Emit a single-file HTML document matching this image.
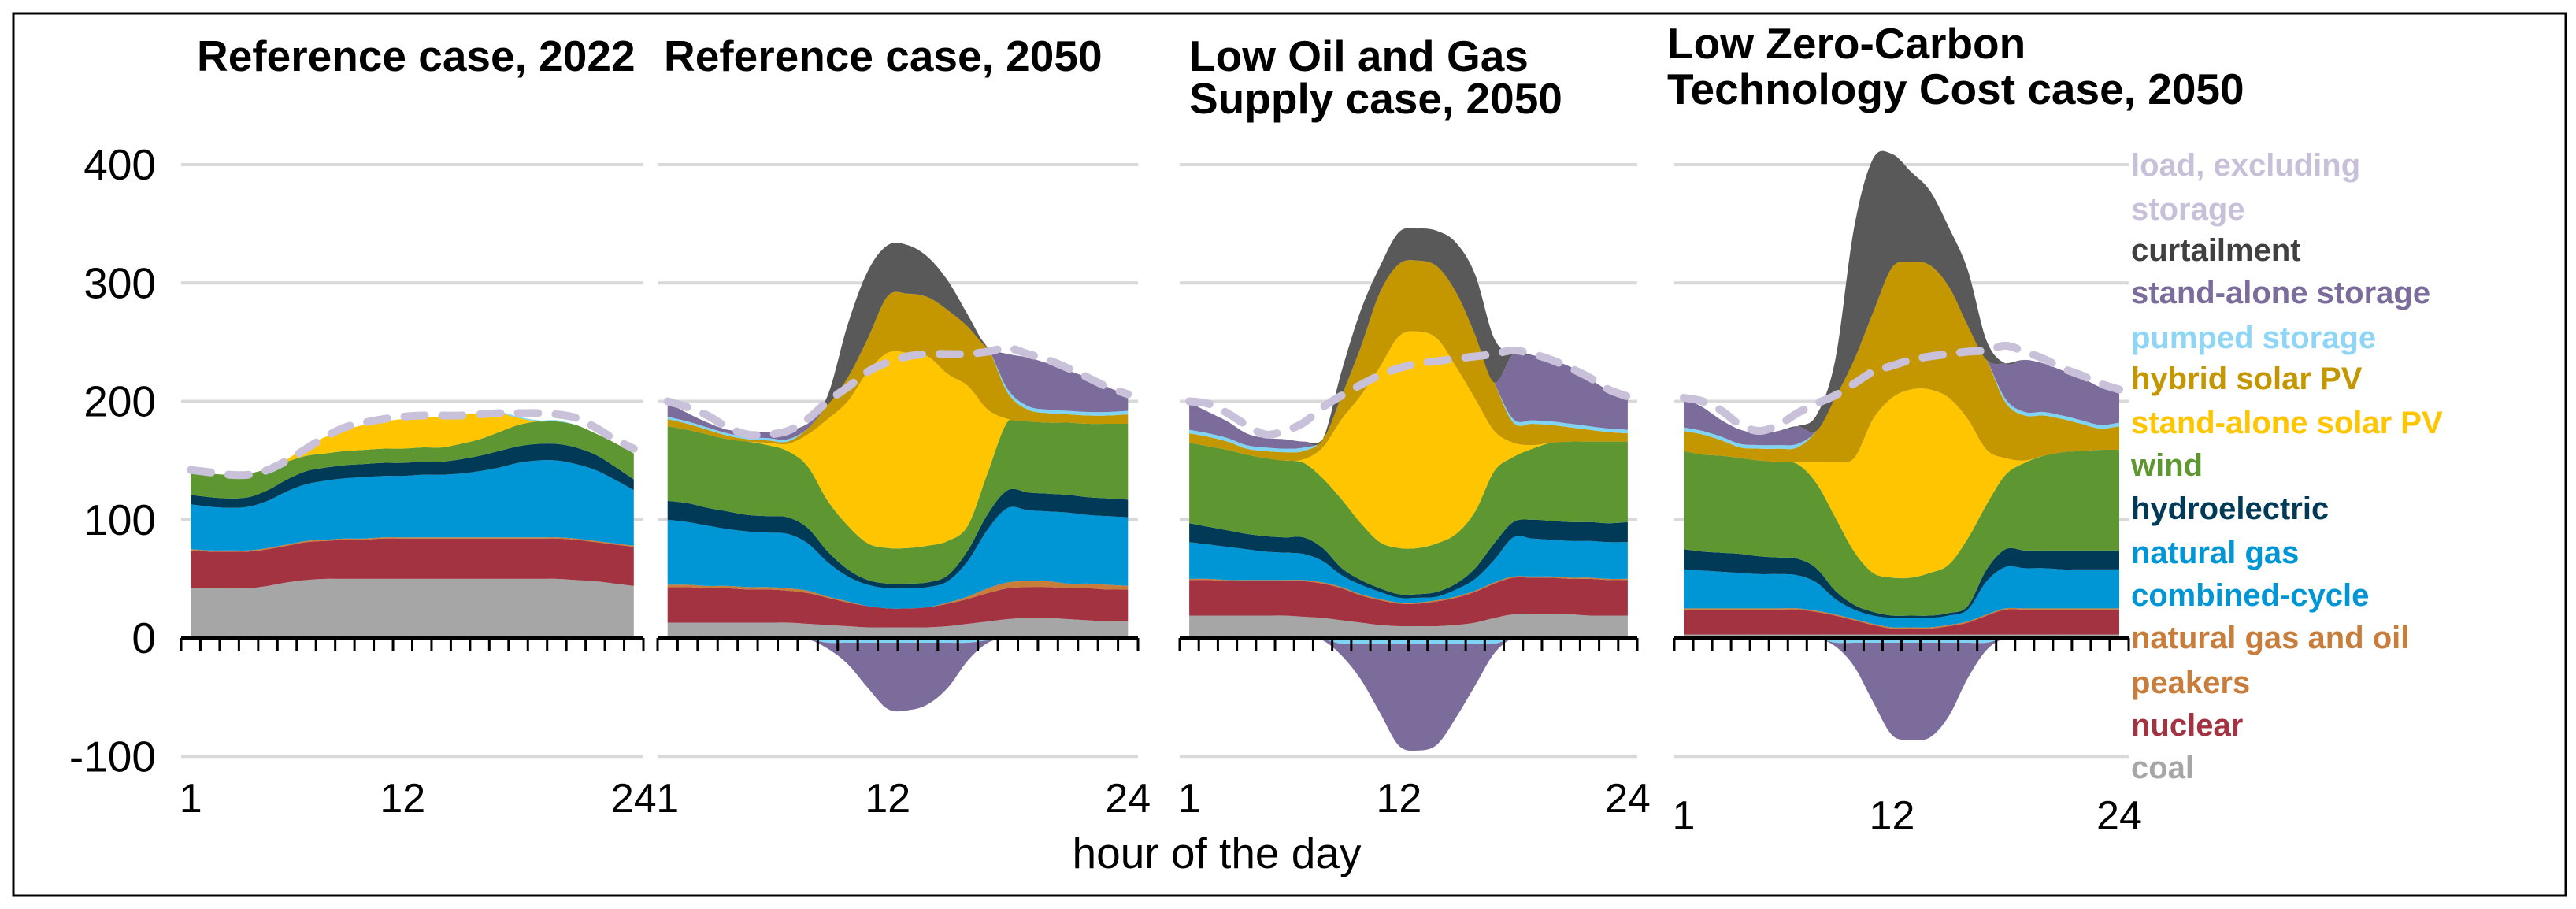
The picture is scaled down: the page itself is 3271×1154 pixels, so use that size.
<!DOCTYPE html>
<html><head><meta charset="utf-8"><style>
html,body{margin:0;padding:0;background:#fff;}
svg{display:block;font-family:"Liberation Sans",Arial,sans-serif;}
</style></head><body>
<svg id="chart" width="3271" height="1154" viewBox="0 0 3271 1154" xmlns="http://www.w3.org/2000/svg">
<rect x="17" y="17" width="3241" height="1120" fill="#fff" stroke="#000" stroke-width="3"/>
<g font-weight="bold" font-size="55" fill="#000">
<text x="250" y="90">Reference case, 2022</text>
<text x="843" y="90">Reference case, 2050</text>
<text x="1510" y="90">Low Oil and Gas</text>
<text x="1510" y="144">Supply case, 2050</text>
<text x="2117" y="74">Low Zero-Carbon</text>
<text x="2117" y="132">Technology Cost case, 2050</text>
</g>
<g id="yaxis" font-size="55" fill="#000" text-anchor="end"></g>
<g id="panels"></g>
<text x="1545" y="1102" font-size="55" text-anchor="middle" fill="#000">hour of the day</text>
<g id="legend" font-weight="bold" font-size="40"></g>
</svg>
<script>
const hours=[1,2,3,4,5,6,7,8,9,10,11,12,13,14,15,16,17,18,19,20,21,22,23,24];
const yTicks=[400,300,200,100,0,-100];
const xTickLabels=[1,12,24];

// Panel 1: Reference case, 2022
const p1Coal=[42,42,42,42,44,47,49,50,50,50,50,50,50,50,50,50,50,50,50,50,49,48,46,44];
const p1Nuclear=[32,31,31,31,31,31,32,32,33,33,34,34,34,34,34,34,34,34,34,34,34,33,33,33];
const p1Peakers=[1,1,1,1,1,1,1,1,1,1,1,1,1,1,1,1,1,1,1,1,1,1,1,1];
const p1Ngcc=[38,37,36,37,40,45,48,50,51,52,52,52,53,53,54,56,59,63,65,65,63,60,54,47];
const p1Hydro=[8,8,8,8,9,10,11,11,11,11,11,11,11,11,12,13,14,14,14,14,14,13,11,9];
const p1Wind=[20,20,20,20,18,15,13,12,12,12,12,12,12,12,13,14,16,18,19,19,19,18,20,22];
const p1Solar=[0,0,0,0,0,2,8,14,18,21,23,25,26,26,25,22,16,6,0,0,0,0,0,0];
const p1Hybrid=[0,0,0,0,0,0,0,0,0,0,0,0,0,0,0,0,0,0,0,0,0,0,0,0];
const p1Pumped=[0,0,0,0,0,0,0,0,0,0,0,0,0,0,0,0,1,1,1,1,0,0,0,0];
const p1Storage=[0,0,0,0,0,0,0,0,0,0,0,0,0,0,0,0,0,0,0,0,0,0,0,0];
const p1Curtail=[0,0,0,0,0,0,0,0,0,0,0,0,0,0,0,0,0,0,0,0,0,0,0,0];
const p1Load=[142,140,138,138,142,150,160,170,178,182,185,187,188,188,188,189,190,190,190,189,186,178,168,160];
const p1StorageNeg=[0,0,0,0,0,0,0,0,0,0,0,0,0,0,0,0,0,0,0,0,0,0,0,0];
const p1PumpedNeg=[0,0,0,0,0,0,0,0,0,0,0,0,0,0,0,0,0,0,0,0,0,0,0,0];

// Panel 2: Reference case, 2050
const p2Coal=[13,13,13,13,13,13,13,12,11,10,9,9,9,9,10,12,14,16,17,17,16,15,14,14];
const p2Nuclear=[30,30,29,29,28,28,27,26,23,20,18,16,16,17,19,21,24,26,26,26,26,27,27,27];
const p2Peakers=[2,2,2,2,2,2,2,2,1,1,0,0,0,0,1,2,4,5,5,5,4,4,4,3];
const p2Ngcc=[55,53,51,48,47,46,46,40,29,21,18,17,17,17,18,30,50,63,60,59,60,58,58,58];
const p2Hydro=[16,16,15,15,14,14,14,13,9,6,4,4,4,4,5,9,13,15,15,15,15,15,15,15];
const p2Wind=[63,62,62,61,62,60,56,52,43,37,31,30,30,31,29,21,35,58,60,60,61,62,63,64];
const p2Solar=[0,0,0,0,0,2,6,27,69,105,145,165,165,160,141,118,53,2,0,0,0,0,0,0];
const p2Hybrid=[6,5,4,3,2,2,2,5,12,20,28,48,50,50,54,50,52,22,10,8,7,7,7,8];
const p2Pumped=[2,2,2,2,2,2,2,0,0,0,0,0,0,0,0,0,0,3,3,3,3,3,3,3];
const p2Storage=[12,7,4,3,5,5,7,4,0,0,0,0,0,0,0,0,0,30,41,39,34,29,21,13];
const p2Curtail=[0,0,0,0,0,0,0,0,8,45,57,43,41,34,25,10,0,0,0,0,0,0,0,0];
const p2Load=[200,195,188,178,172,172,175,185,200,212,225,233,238,240,240,240,242,245,240,235,228,220,212,206];
const p2StorageNeg=[0,0,0,0,0,0,0,0,-5,-18,-38,-56,-57,-52,-38,-15,-2,0,0,0,0,0,0,0];
const p2PumpedNeg=[0,0,0,0,0,0,0,-1,-4,-4,-4,-4,-4,-4,-4,-4,-2,0,0,0,0,0,0,0];

// Panel 3: Low Oil and Gas Supply case, 2050
const p3Coal=[19,19,19,19,19,19,18,17,15,13,11,10,10,10,11,13,17,20,20,20,20,19,19,19];
const p3Nuclear=[30,30,29,29,29,29,30,29,27,23,21,19,19,21,23,26,29,31,31,31,30,31,30,30];
const p3Peakers=[1,1,1,1,1,1,1,1,1,1,1,1,1,1,1,1,1,1,1,1,1,1,1,1];
const p3Ngcc=[31,29,28,26,24,23,22,18,10,8,6,4,4,3,6,10,19,33,32,31,31,31,31,31];
const p3Hydro=[16,15,14,13,13,13,14,11,6,4,3,3,3,4,5,9,14,13,16,16,16,16,16,17];
const p3Wind=[68,68,68,67,66,65,63,59,58,48,39,39,39,41,42,48,61,55,60,66,68,68,69,68];
const p3Solar=[0,0,0,0,0,0,3,26,68,108,148,179,183,173,141,95,34,12,3,0,0,0,0,0];
const p3Hybrid=[8,8,7,5,6,7,7,7,20,41,63,61,60,61,63,54,41,17,18,15,12,10,8,7];
const p3Pumped=[3,3,3,3,3,3,3,0,0,0,0,0,0,0,0,0,0,3,3,3,3,3,3,3];
const p3Storage=[23,18,14,10,8,8,5,0,0,0,0,0,0,0,0,0,0,55,55,52,48,40,32,26];
const p3Curtail=[0,0,0,0,0,0,0,0,21,31,22,27,27,30,42,51,37,0,0,0,0,0,0,0];
const p3Load=[200,198,190,180,172,175,182,195,205,214,222,228,232,234,236,238,240,243,240,235,228,220,210,204];
const p3StorageNeg=[0,0,0,0,0,0,0,-1,-10,-30,-58,-86,-90,-85,-62,-35,-8,0,0,0,0,0,0,0];
const p3PumpedNeg=[0,0,0,0,0,0,0,-1,-5,-5,-5,-5,-5,-5,-5,-5,-5,0,0,0,0,0,0,0];

// Panel 4: Low Zero-Carbon Technology Cost case, 2050
const p4Coal=[3,3,3,3,3,3,3,3,3,3,3,3,3,3,3,3,3,3,3,3,3,3,3,3];
const p4Nuclear=[21,21,21,21,21,21,21,19,16,12,8,5,5,5,7,10,16,21,21,21,21,21,21,21];
const p4Peakers=[1,1,1,1,1,1,1,1,1,1,1,1,1,1,1,1,1,1,1,1,1,1,1,1];
const p4Ngcc=[33,32,31,30,29,29,28,24,13,8,7,8,8,8,8,10,28,35,34,34,33,33,33,33];
const p4Hydro=[17,16,16,16,15,14,14,12,7,4,3,2,2,2,2,3,10,15,15,15,16,16,16,16];
const p4Wind=[83,82,82,81,81,81,80,72,62,45,33,32,32,36,41,57,55,63,74,80,83,84,85,85];
const p4Solar=[0,0,0,0,0,0,2,18,47,79,130,152,159,155,141,101,46,14,2,0,0,0,0,0];
const p4Hybrid=[17,17,13,9,10,11,12,26,54,83,90,110,108,105,94,79,76,47,38,34,28,23,18,20];
const p4Pumped=[3,3,3,3,3,3,3,0,0,0,0,0,0,0,0,0,0,3,3,3,3,3,3,3];
const p4Storage=[25,20,14,12,10,12,15,0,0,0,0,0,0,0,0,0,0,30,44,41,38,36,32,26];
const p4Curtail=[0,0,0,0,0,0,0,13,32,112,130,96,76,63,50,47,16,0,0,0,0,0,0,0];
const p4Load=[203,200,192,180,175,180,190,198,205,215,225,230,235,238,240,242,243,247,242,236,228,222,215,210];
const p4StorageNeg=[0,0,0,0,0,0,0,0,-3,-20,-50,-78,-82,-80,-62,-30,-6,0,0,0,0,0,0,0];
const p4PumpedNeg=[0,0,0,0,0,0,0,0,-4,-4,-4,-4,-4,-4,-4,-4,-4,0,0,0,0,0,0,0];

const layerNames=['coal','nuclear','peakers','natural-gas-combined-cycle','hydroelectric','wind','stand-alone-solar-pv','hybrid-solar-pv','pumped-storage','stand-alone-storage','curtailment'];
const layerColors=['#a6a6a6','#a33340','#c87d3a','#0096d6','#003a57','#5e9732','#ffc600','#c49700','#7fd4f5','#7b6c9b','#595959'];

const NS='http://www.w3.org/2000/svg';
const Y0=810, YS=1.5025;
function yScale(v){return Y0-YS*v;}

function curveSeg(pts){
  let d='';
  for(let i=0;i<pts.length-1;i++){
    const p0=pts[Math.max(0,i-1)],p1=pts[i],p2=pts[i+1],p3=pts[Math.min(pts.length-1,i+2)];
    const c1x=p1[0]+(p2[0]-p0[0])/6,c1y=p1[1]+(p2[1]-p0[1])/6;
    const c2x=p2[0]-(p3[0]-p1[0])/6,c2y=p2[1]-(p3[1]-p1[1])/6;
    d+=' C'+c1x.toFixed(1)+','+c1y.toFixed(1)+' '+c2x.toFixed(1)+','+c2y.toFixed(1)+' '+p2[0].toFixed(1)+','+p2[1].toFixed(1);
  }
  return d;
}
function areaPath(top,bot){
  let d='M'+top[0][0].toFixed(1)+','+top[0][1].toFixed(1)+curveSeg(top);
  const rb=bot.slice().reverse();
  d+=' L'+rb[0][0].toFixed(1)+','+rb[0][1].toFixed(1)+curveSeg(rb)+' Z';
  return d;
}

const panels=[
 {id:'reference-2022',x0:230,x1:817,layers:[p1Coal,p1Nuclear,p1Peakers,p1Ngcc,p1Hydro,p1Wind,p1Solar,p1Hybrid,p1Pumped,p1Storage,p1Curtail],load:p1Load,sneg:p1StorageNeg,pneg:p1PumpedNeg,labY:1031},
 {id:'reference-2050',x0:835,x1:1445,layers:[p2Coal,p2Nuclear,p2Peakers,p2Ngcc,p2Hydro,p2Wind,p2Solar,p2Hybrid,p2Pumped,p2Storage,p2Curtail],load:p2Load,sneg:p2StorageNeg,pneg:p2PumpedNeg,labY:1031},
 {id:'low-oil-gas-2050',x0:1498,x1:2079,layers:[p3Coal,p3Nuclear,p3Peakers,p3Ngcc,p3Hydro,p3Wind,p3Solar,p3Hybrid,p3Pumped,p3Storage,p3Curtail],load:p3Load,sneg:p3StorageNeg,pneg:p3PumpedNeg,labY:1031},
 {id:'low-zero-carbon-2050',x0:2126,x1:2703,layers:[p4Coal,p4Nuclear,p4Peakers,p4Ngcc,p4Hydro,p4Wind,p4Solar,p4Hybrid,p4Pumped,p4Storage,p4Curtail],load:p4Load,sneg:p4StorageNeg,pneg:p4PumpedNeg,labY:1053}
];

const yAxisG=document.getElementById('yaxis');
yTicks.forEach(t=>{
  const tx=document.createElementNS(NS,'text');
  tx.setAttribute('x',198);tx.setAttribute('y',yScale(t)+19);
  tx.textContent=String(t);
  
  
  yAxisG.appendChild(tx);
});

const panelsG=document.getElementById('panels');
panels.forEach(p=>{
  const g=document.createElementNS(NS,'g');
  
  
  panelsG.appendChild(g);
  const step=(p.x1-p.x0)/hours.length;
  const xScale=h=>p.x0+(h-0.5)*step;
  yTicks.forEach(t=>{
    if(t===0)return;
    const l=document.createElementNS(NS,'line');
    l.setAttribute('x1',p.x0);l.setAttribute('x2',p.x1);
    l.setAttribute('y1',yScale(t));l.setAttribute('y2',yScale(t));
    l.setAttribute('stroke','#d9d9d9');l.setAttribute('stroke-width','4');
    
    
    g.appendChild(l);
  });
  let cum=hours.map(()=>0);
  p.layers.forEach((arr,li)=>{
    const bot=hours.map((h,i)=>[xScale(h),yScale(cum[i])]);
    const next=cum.map((c,i)=>c+arr[i]);
    const top=hours.map((h,i)=>[xScale(h),yScale(next[i])]);
    cum=next;
    if(arr.every(v=>v===0))return;
    const path=document.createElementNS(NS,'path');
    path.setAttribute('d',areaPath(top,bot));
    path.setAttribute('fill',layerColors[li]);
    
    
    g.appendChild(path);
  });
  let ncum=hours.map(()=>0);
  [[p.pneg,8],[p.sneg,9]].forEach(([arr,li])=>{
    const bot=hours.map((h,i)=>[xScale(h),yScale(ncum[i])]);
    const next=ncum.map((c,i)=>c+arr[i]);
    const top=hours.map((h,i)=>[xScale(h),yScale(next[i])]);
    ncum=next;
    if(arr.every(v=>v===0))return;
    const path=document.createElementNS(NS,'path');
    path.setAttribute('d',areaPath(top,bot));
    path.setAttribute('fill',layerColors[li]);
    
    
    g.appendChild(path);
  });
  const lp=hours.map((h,i)=>[xScale(h),yScale(p.load[i])]);
  const ld=document.createElementNS(NS,'path');
  ld.setAttribute('d','M'+lp[0][0]+','+lp[0][1]+curveSeg(lp));
  ld.setAttribute('fill','none');ld.setAttribute('stroke','#c9c1d9');
  ld.setAttribute('stroke-width','10');ld.setAttribute('stroke-dasharray','26 22');
  ld.setAttribute('stroke-linecap','round');
  
  
  g.appendChild(ld);
  const ax=document.createElementNS(NS,'line');
  ax.setAttribute('x1',p.x0);ax.setAttribute('x2',p.x1);
  ax.setAttribute('y1',Y0);ax.setAttribute('y2',Y0);
  ax.setAttribute('stroke','#000');ax.setAttribute('stroke-width','4');
  
  
  g.appendChild(ax);
  for(let k=0;k<=hours.length;k++){
    const tk=document.createElementNS(NS,'line');
    const tx=p.x0+k*step;
    tk.setAttribute('x1',tx);tk.setAttribute('x2',tx);
    tk.setAttribute('y1',Y0);tk.setAttribute('y2',Y0+17);
    tk.setAttribute('stroke','#000');tk.setAttribute('stroke-width','3');
    
    
    g.appendChild(tk);
  }
  xTickLabels.forEach(h=>{
    const t=document.createElementNS(NS,'text');
    t.setAttribute('x',xScale(h));t.setAttribute('y',p.labY);
    t.setAttribute('font-size','52');t.setAttribute('text-anchor','middle');
    t.textContent=String(h);
    
    
    g.appendChild(t);
  });
});

const legendLines=[
 ['load, excluding','#c8c0d8'],['storage','#c8c0d8'],['curtailment','#404040'],['stand-alone storage','#7b6c9b'],
 ['pumped storage','#8fd5f5'],['hybrid solar PV','#c49700'],['stand-alone solar PV','#ffc600'],['wind','#5e9732'],
 ['hydroelectric','#003a57'],['natural gas','#0096d6'],['combined-cycle','#0096d6'],['natural gas and oil','#c87d3a'],
 ['peakers','#c87d3a'],['nuclear','#a33340'],['coal','#a6a6a6']
];
const legendY=[209,265,317,371,428,480,536,590,645,701,755,809,866,920,974];
const legG=document.getElementById('legend');
legendLines.forEach((l,i)=>{
  const t=document.createElementNS(NS,'text');
  t.setAttribute('x',2706);t.setAttribute('y',legendY[i]+14);
  t.setAttribute('fill',l[1]);
  t.textContent=l[0];
  
  
  legG.appendChild(t);
});
</script>
</body></html>
